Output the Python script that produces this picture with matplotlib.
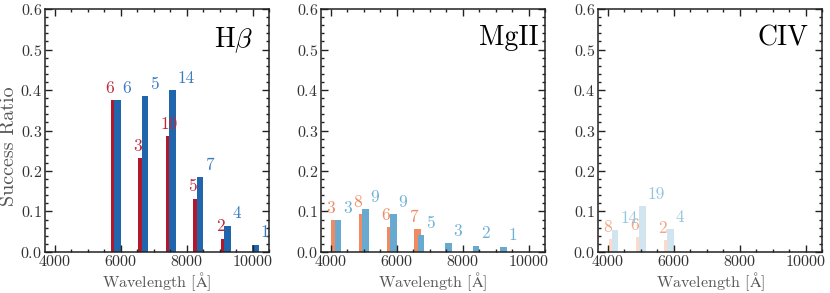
import numpy as np
import matplotlib
matplotlib.use("Agg")
import matplotlib.pyplot as plt
from matplotlib.ticker import MultipleLocator

plt.rcParams["font.family"] = "serif"
plt.rcParams["font.serif"] = ["cmr10", "DejaVu Serif"]
plt.rcParams["mathtext.fontset"] = "cm"
plt.rcParams["axes.formatter.use_mathtext"] = True
plt.rcParams["axes.unicode_minus"] = False

# 8 wavelength bins from 3800 to 10500 A
edges = np.linspace(3800, 10500, 9)
centers = 0.5 * (edges[1:] + edges[:-1])

# H-beta
hb_red_bins = [2, 3, 4, 5, 6]
hb_red_vals = [0.375, 0.231, 0.286, 0.132, 0.033]
hb_red_counts = [6, 3, 10, 5, 2]
hb_blue_bins = [2, 3, 4, 5, 6, 7]
hb_blue_vals = [0.375, 0.385, 0.400, 0.185, 0.065, 0.018]
hb_blue_counts = [6, 5, 14, 7, 4, 1]

# MgII
mg_red_bins = [0, 1, 2, 3]
mg_red_vals = [0.078, 0.093, 0.062, 0.056]
mg_red_counts = [3, 8, 6, 7]
mg_blue_bins = [0, 1, 2, 3, 4, 5, 6]
mg_blue_vals = [0.078, 0.105, 0.093, 0.041, 0.021, 0.016, 0.012]
mg_blue_counts = [3, 9, 9, 5, 3, 2, 1]

# CIV
civ_red_bins = [0, 1, 2]
civ_red_vals = [0.031, 0.036, 0.029]
civ_red_counts = [8, 6, 2]
civ_blue_bins = [0, 1, 2]
civ_blue_vals = [0.054, 0.113, 0.056]
civ_blue_counts = [14, 19, 4]

panels = [
    ("H$\\beta$", hb_red_bins, hb_red_vals, hb_red_counts,
     hb_blue_bins, hb_blue_vals, hb_blue_counts,
     "#b2182b", "#2166ac", "#c0283a", "#3a7cc0", 0.755),
    ("MgII", mg_red_bins, mg_red_vals, mg_red_counts,
     mg_blue_bins, mg_blue_vals, mg_blue_counts,
     "#ef8a62", "#67a9cf", "#ef8a62", "#6fb0d8", 0.703),
    ("CIV", civ_red_bins, civ_red_vals, civ_red_counts,
     civ_blue_bins, civ_blue_vals, civ_blue_counts,
     "#fddbc7", "#d1e5f0", "#f4a582", "#92c5de", 0.712),
]

fig = plt.figure(figsize=(8.3, 2.93), dpi=100)
lefts = [0.0542, 0.3867, 0.7205]
width = 0.270
bw = 200

for i, (name, rb, rv, rc, bb, bv, bc, rcol, bcol, rtxt, btxt, tx) in enumerate(panels):
    ax = fig.add_axes([lefts[i], 0.140, width, 0.829])
    rx = centers[rb] - 100
    bx = centers[bb]
    ax.bar(rx, rv, width=bw, color=rcol, linewidth=0)
    ax.bar(bx, bv, width=bw, color=bcol, linewidth=0)
    for x, v, c in zip(rx, rv, rc):
        ax.text(x - 265, v + 0.018, str(c), color=rtxt, fontsize=12.5,
                ha="left", va="baseline")
    for x, v, c in zip(bx, bv, bc):
        ax.text(x + 150, v + 0.018, str(c), color=btxt, fontsize=12.5,
                ha="left", va="baseline")
    ax.text(tx, 0.935, name, transform=ax.transAxes, fontsize=20,
            ha="left", va="top")
    ax.set_xlim(3700, 10500)
    ax.set_ylim(0, 0.6)
    ax.xaxis.set_major_locator(MultipleLocator(2000))
    ax.xaxis.set_minor_locator(MultipleLocator(500))
    ax.yaxis.set_major_locator(MultipleLocator(0.1))
    ax.yaxis.set_minor_locator(MultipleLocator(0.02))
    ax.tick_params(which="both", direction="in", top=True, right=True,
                   labelsize=11.5, width=1.0, colors="#222222",
                   labelcolor="#333333")
    ax.tick_params(which="major", length=5)
    ax.tick_params(which="minor", length=2.5)
    ax.tick_params(axis="x", pad=1.5)
    ax.tick_params(axis="y", pad=2)
    for s in ax.spines.values():
        s.set_linewidth(1.1)
        s.set_color("#222222")
    ax.set_xlabel("Wavelength [$\\mathrm{\\AA}$]", fontsize=11.5,
                  color="#555555", labelpad=1)

fig.text(0.011, 0.5, "Success Ratio", rotation=90, fontsize=14.5,
         color="#555555", ha="center", va="center")

fig.savefig("out.png", dpi=100)
